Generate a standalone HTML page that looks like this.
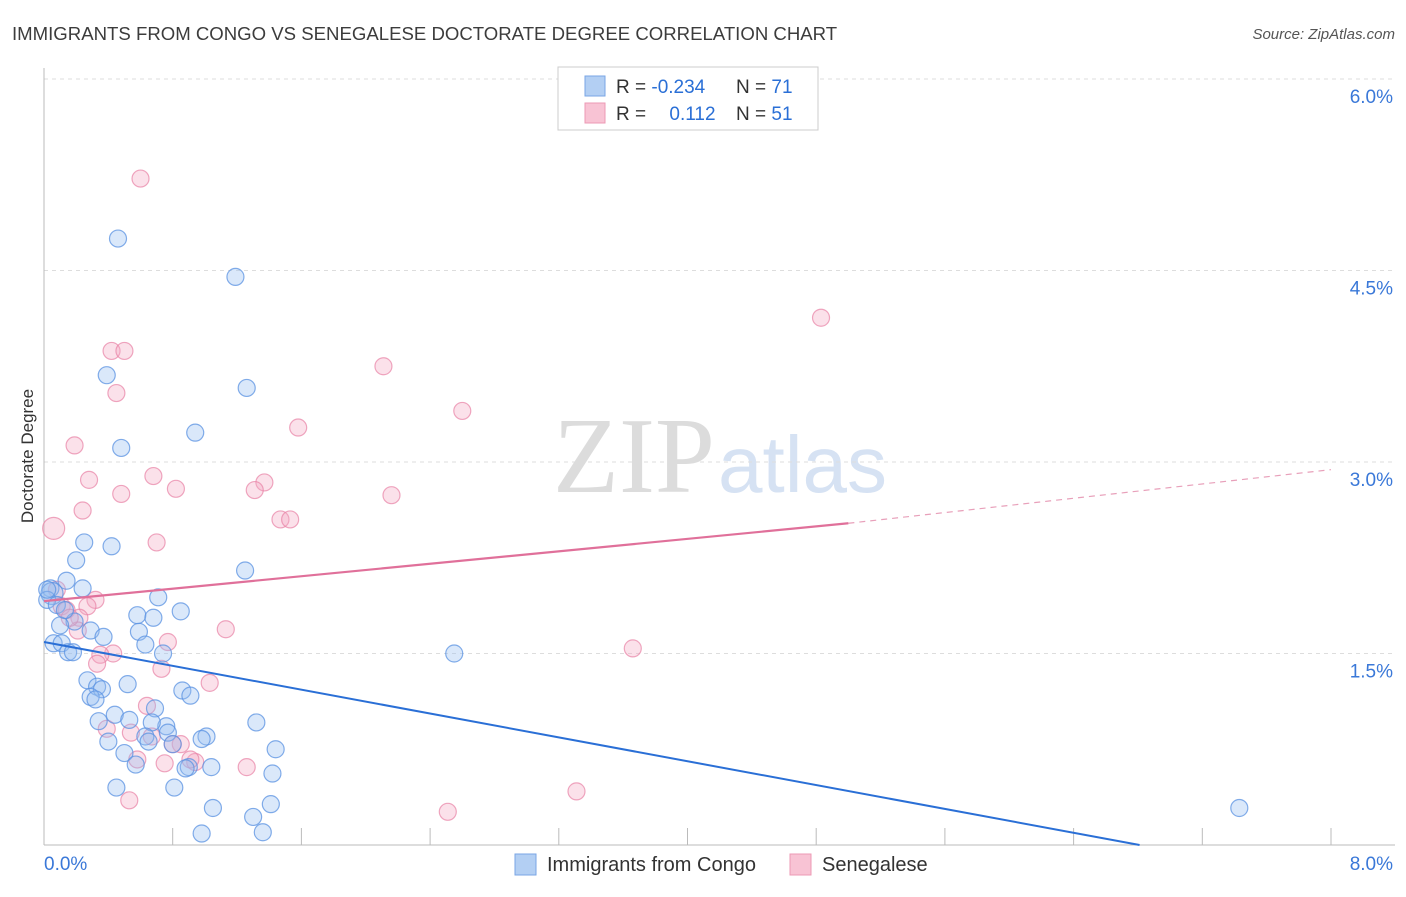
<!DOCTYPE html>
<html><head><meta charset="utf-8"><style>
body{margin:0;background:#fff;font-family:"Liberation Sans",sans-serif;}
</style></head><body>
<svg id="chart" width="1406" height="892" xmlns="http://www.w3.org/2000/svg" font-family="Liberation Sans, sans-serif">
<text x="12" y="40" font-size="18.6" fill="#3c3c3c">IMMIGRANTS FROM CONGO VS SENEGALESE DOCTORATE DEGREE CORRELATION CHART</text>
<text x="1395" y="39" font-size="15" fill="#555" font-style="italic" text-anchor="end">Source: ZipAtlas.com</text>
<g>
<text x="553" y="492" font-size="108" font-family="Liberation Serif, serif" fill="#dcdcdc">ZIP</text>
<text x="718" y="492" font-size="80" fill="#d6e2f3">atlas</text>
</g>
<g id="grid"></g>
<g id="axes"></g>
<g id="marks"></g>
<text transform="translate(33,456) rotate(-90)" font-size="17" fill="#333" text-anchor="middle">Doctorate Degree</text>
<g>
<rect x="558" y="67" width="260" height="63" fill="#fff" stroke="#ccc"/>
<rect x="585" y="76" width="20" height="20" fill="#b3cff3" stroke="#7aa6e4"/>
<rect x="585" y="103" width="20" height="20" fill="#f8c3d4" stroke="#ec9ab4"/>
<text x="616" y="93" font-size="19" fill="#333">R = <tspan fill="#2a6fd6">-0.234</tspan></text>
<text x="736" y="93" font-size="19" fill="#333">N = <tspan fill="#2a6fd6">71</tspan></text>
<text x="616" y="120" font-size="19" fill="#333">R = <tspan fill="#2a6fd6" dx="18">0.112</tspan></text>
<text x="736" y="120" font-size="19" fill="#333">N = <tspan fill="#2a6fd6">51</tspan></text>
</g>
<g>
<rect x="515" y="854" width="21" height="21" fill="#b3cff3" stroke="#7aa6e4"/>
<text x="547" y="871" font-size="20" fill="#333">Immigrants from Congo</text>
<rect x="790" y="854" width="21" height="21" fill="#f8c3d4" stroke="#ec9ab4"/>
<text x="822" y="871" font-size="20" fill="#333">Senegalese</text>
</g>
</svg>
<script>
const yTicks=[1.5,3.0,4.5,6.0];
const yTickLabels=["1.5%","3.0%","4.5%","6.0%"];
const congoX=[0.46,1.19,0.39,1.26,0.94,0.48,0.25,0.42,0.20,1.25,0.14,0.04,0.24,0.05,0.71,0.02,0.85,0.58,0.68,0.19,0.10,0.29,0.59,0.37,0.06,0.11,0.63,0.15,0.18,0.74,2.55,0.27,0.52,0.33,0.36,0.86,0.29,0.32,0.91,0.44,0.69,0.34,0.53,0.76,0.67,1.32,0.77,0.63,0.40,1.01,0.98,0.80,0.65,1.44,0.50,0.57,0.90,1.04,0.88,1.42,0.45,0.81,1.05,1.41,1.30,0.98,1.36,7.43,0.02,0.08,0.13];
const congoY=[4.75,4.45,3.68,3.58,3.23,3.11,2.37,2.34,2.23,2.15,2.07,2.01,2.01,1.97,1.94,1.92,1.83,1.80,1.78,1.75,1.72,1.68,1.67,1.63,1.58,1.58,1.57,1.51,1.51,1.50,1.50,1.29,1.26,1.24,1.22,1.21,1.16,1.14,1.17,1.02,1.07,0.97,0.98,0.93,0.96,0.96,0.88,0.85,0.81,0.85,0.83,0.79,0.81,0.75,0.72,0.63,0.61,0.61,0.60,0.56,0.45,0.45,0.29,0.32,0.22,0.09,0.10,0.29,2.00,1.88,1.84];
const senX=[0.60,4.83,0.42,0.50,2.11,0.45,2.60,1.58,0.19,0.68,0.28,1.37,0.82,1.31,0.48,2.16,0.24,1.47,1.53,0.06,0.70,0.08,0.32,0.11,0.27,0.14,0.22,0.21,0.77,1.13,3.66,0.43,0.35,0.33,0.73,1.03,0.64,0.39,0.54,0.67,0.85,0.80,0.58,0.94,1.26,0.75,0.91,3.31,0.53,2.51,0.16];
const senY=[5.22,4.13,3.87,3.87,3.75,3.54,3.40,3.27,3.13,2.89,2.86,2.84,2.79,2.78,2.75,2.74,2.62,2.55,2.55,2.48,2.37,2.00,1.92,1.87,1.87,1.84,1.78,1.68,1.59,1.69,1.54,1.50,1.49,1.42,1.38,1.27,1.09,0.91,0.88,0.85,0.79,0.79,0.67,0.65,0.61,0.64,0.67,0.42,0.35,0.26,1.78];
const congoTrend=[[0,1.59],[6.81,0]];
const senTrendSolid=[[0,1.91],[5.0,2.52]];
const senTrendDash=[[5.0,2.52],[8.0,2.94]];
const NS="http://www.w3.org/2000/svg";
function sx(v){return 44+v/8*1287;}
function sy(v){return 845-v/1.5*191.5;}
function mk(tag,attrs,parent){const e=document.createElementNS(NS,tag);for(const k in attrs)e.setAttribute(k,attrs[k]);parent.appendChild(e);return e;}
const grid=document.getElementById('grid'),axes=document.getElementById('axes'),marks=document.getElementById('marks');
yTicks.forEach((t,i)=>{
 const l=mk('line',{x1:44,x2:1395,y1:sy(t),y2:sy(t),stroke:'#ddd','stroke-dasharray':'4,4'},grid);
 
 
 const tx=mk('text',{x:1393,y:sy(t)+24,'font-size':19,fill:'#3a78d8','text-anchor':'end'},axes);
 tx.textContent=yTickLabels[i];
 
 
});
const la=mk('line',{x1:44,x2:44,y1:68,y2:845,stroke:'#bbb'},axes);


const ba=mk('line',{x1:44,x2:1395,y1:845,y2:845,stroke:'#bbb'},axes);


for(let i=0;i<=10;i++){const t=mk('line',{x1:sx(i*0.8),x2:sx(i*0.8),y1:828,y2:845,stroke:'#bbb'},axes);
 
 }
const x0=mk('text',{x:44,y:870,'font-size':19,fill:'#3a78d8'},axes);x0.textContent='0.0%';


const x1=mk('text',{x:1393,y:870,'font-size':19,fill:'#3a78d8','text-anchor':'end'},axes);x1.textContent='8.0%';


senX.forEach((x,i)=>{const c=mk('circle',{cx:sx(x),cy:sy(senY[i]),r:i===19?11:8.5,fill:'rgba(244,170,196,0.35)',stroke:'rgba(232,130,165,0.7)','stroke-width':1.2},marks);
 
 });
congoX.forEach((x,i)=>{const c=mk('circle',{cx:sx(x),cy:sy(congoY[i]),r:(i===13)?11:8.5,fill:'rgba(150,190,240,0.35)',stroke:'rgba(90,145,225,0.75)','stroke-width':1.2},marks);
 
 });
function line(p,col,w,dash,name){const l=mk('line',{x1:sx(p[0][0]),y1:sy(p[0][1]),x2:sx(p[1][0]),y2:sy(p[1][1]),stroke:col,'stroke-width':w},marks);
 if(dash)l.setAttribute('stroke-dasharray',dash);
 
 }
line(congoTrend,'#2a6fd6',2,null,'congo-trend-line');
line(senTrendSolid,'#e0709a',2.2,null,'senegalese-trend-line');
line(senTrendDash,'#e8a0ba',1.2,'6,5','senegalese-trend-extension');
</script>
</body></html>
